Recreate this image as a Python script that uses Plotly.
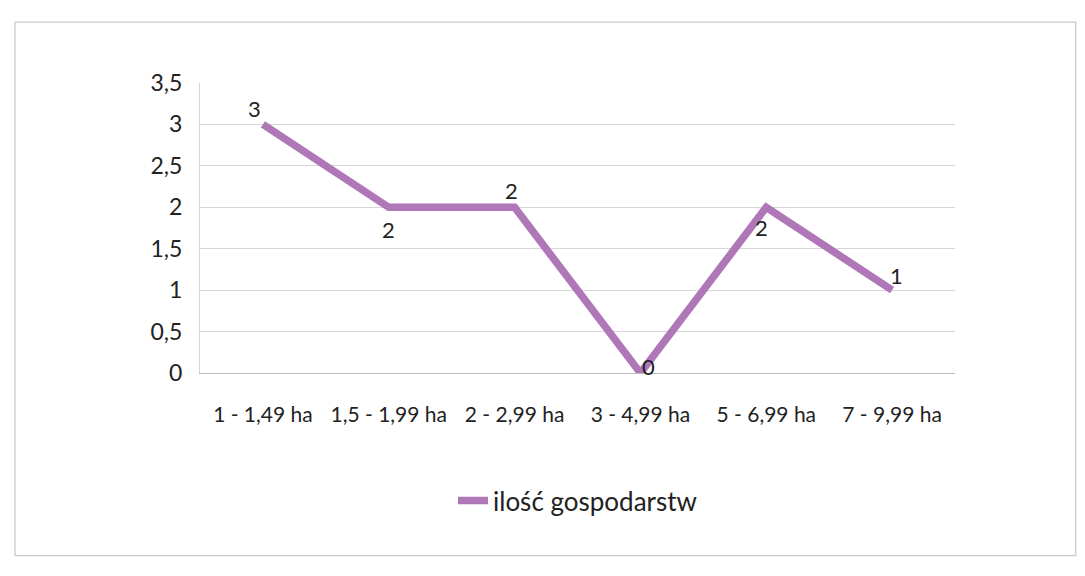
import plotly.graph_objects as go

categories = ["1 - 1,49 ha", "1,5 - 1,99 ha", "2 - 2,99 ha", "3 - 4,99 ha", "5 - 6,99 ha", "7 - 9,99 ha"]
values = [3, 2, 2, 0, 2, 1]
series_name = "ilość gospodarstw"

# label offsets in pixels (style only)
label_shifts = [(-8, 16), (0, -22), (-3, 17), (8, 7), (-5, -20), (4, 15)]

color = "#AF77B7"
font = "Lato, Carlito, Open Sans, sans-serif"

fig = go.Figure()
fig.add_trace(go.Scatter(
    x=list(range(len(categories))), y=values, mode="lines",
    name=series_name,
    line=dict(color=color, width=7.5),
    cliponaxis=False,
))

annotations = [
    dict(x=i, y=v, xref="x", yref="y", text=str(v), showarrow=False,
         xshift=s[0], yshift=s[1], font=dict(size=22, color="#222222", family=font))
    for i, (v, s) in enumerate(zip(values, label_shifts))
]

fig.update_layout(
    width=1085, height=576,
    paper_bgcolor="white", plot_bgcolor="white",
    margin=dict(l=192, r=138, t=75, b=211),
    separators=",.",
    font=dict(family=font, size=22, color="#222222"),
    showlegend=True,
    legend=dict(orientation="h", x=0.5, xanchor="center", y=-0.44, yanchor="middle",
                font=dict(size=26, family=font)),
    xaxis=dict(
        tickmode="array", tickvals=list(range(len(categories))), ticktext=categories,
        range=[-0.5, 5.5], showgrid=False, zeroline=False,
        showline=True, linecolor="#BBBBBB", linewidth=1,
        ticks="", tickfont=dict(size=21), ticklabelstandoff=23,
    ),
    yaxis=dict(
        range=[0, 3.5], dtick=0.5, tickformat=",.1~f",
        showgrid=True, gridcolor="#D6D6D6", gridwidth=1,
        zeroline=False, showline=True, linecolor="#D6D6D6",
        tickfont=dict(size=23), ticklabelstandoff=12,
    ),
    annotations=annotations,
    shapes=[dict(type="rect", xref="paper", yref="paper",
                 x0=-0.245, x1=1.16, y0=-0.63, y1=1.21,
                 line=dict(color="#BBBBBB", width=1))],
)

fig.write_html("out.html")
